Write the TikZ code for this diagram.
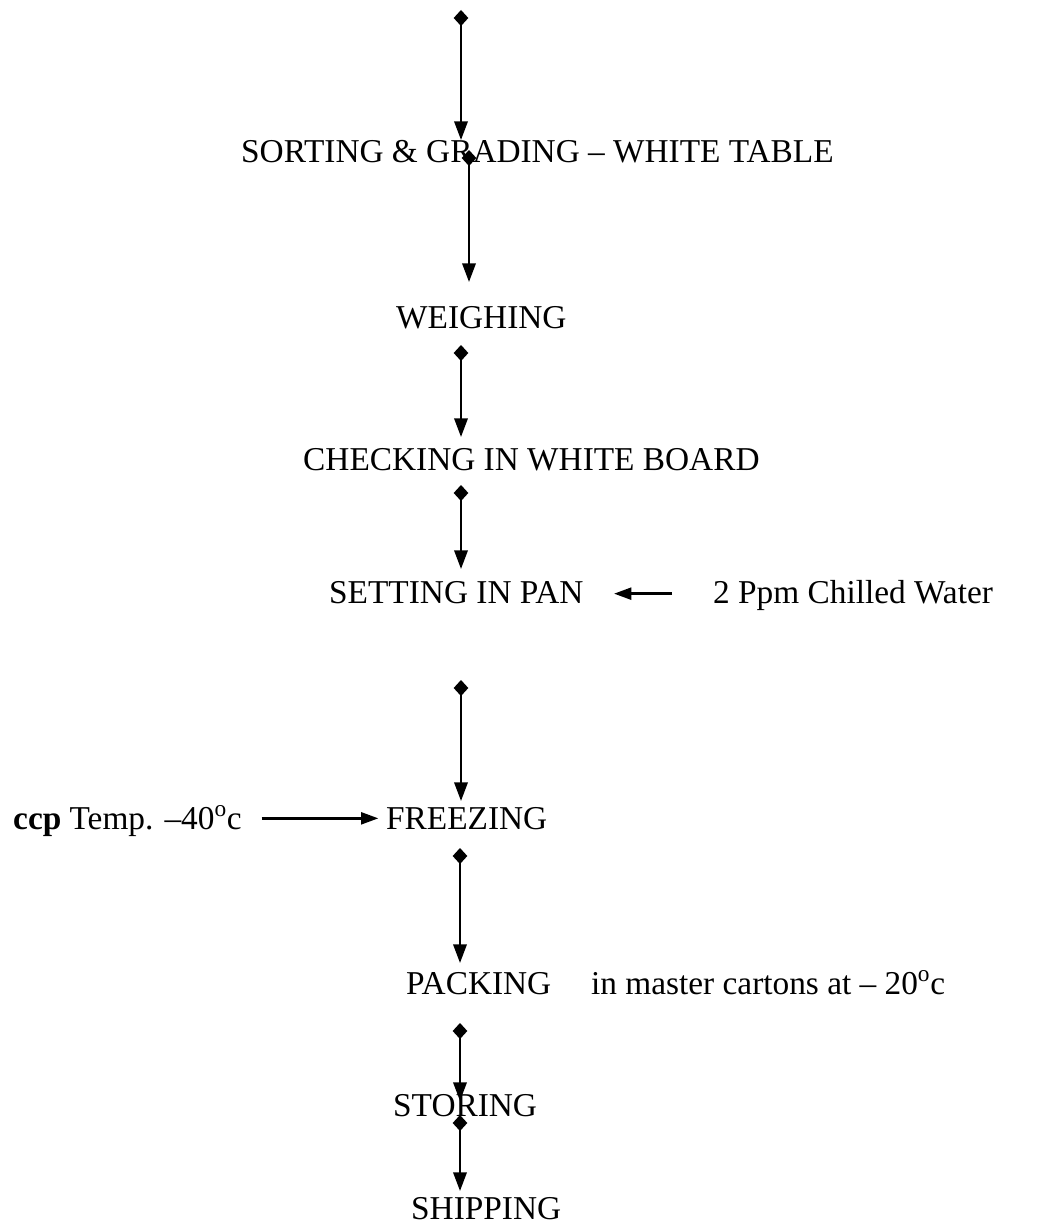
\documentclass[tikz,border=0pt]{standalone}
\usepackage{fontspec}
\setmainfont{Liberation Serif}
\usetikzlibrary{arrows.meta}
\tikzset{flowchart/.style={
  x=0.75pt,y=-0.75pt,
  line width=1.8pt,line join=round,
  every node/.style={inner sep=0pt,anchor=base west,font=\fontsize{25}{30}\selectfont}
},
flowline/.style={{Diamond[width=11pt,length=12pt]}-{Triangle[width=10pt,length=14pt]}},
feedline/.style={-{Triangle[width=9pt,length=13pt]}}}

\begin{document}
\begin{tikzpicture}[flowchart]
  \useasboundingbox (0,0) rectangle (1037,1227);
  \node (sort)   at (240,163)  {SORTING \& GRADING -- WHITE TABLE};
  \node (weigh)  at (395,328)  {WEIGHING};
  \node (check)  at (302,470)  {CHECKING IN WHITE BOARD};
  \node (set)    at (328,603)  {SETTING IN PAN};
  \node (water)  at (712,603)  {2 Ppm Chilled Water};
  \node (freeze) at (385,829)  {FREEZING};
  \node (ccp)    at (12,829)   {\textbf{ccp} Temp. --40\textsuperscript{o}c};
  \node (pack)   at (405,994)  {PACKING};
  \node (master) at (590,994)  {in master cartons at -- 20\textsuperscript{o}c};
  \node (store)  at (392,1116) {STORING};
  \node (ship)   at (410,1219) {SHIPPING};
  \coordinate (s0) at (461,10);   \coordinate (t0) at (461,140);
  \coordinate (s1) at (469,150);  \coordinate (t1) at (469,282);
  \coordinate (s2) at (461,345);  \coordinate (t2) at (461,437);
  \coordinate (s3) at (461,485);  \coordinate (t3) at (461,569);
  \coordinate (s4) at (461,680);  \coordinate (t4) at (461,801);
  \coordinate (s5) at (460,848);  \coordinate (t5) at (460,963);
  \coordinate (s6) at (460,1023); \coordinate (t6) at (460,1101);
  \coordinate (s7) at (460,1115); \coordinate (t7) at (460,1191);
  \foreach \i in {0,...,7}
    \draw[flowline] (s\i) -- (t\i);
  \draw[feedline] ([xshift=-30pt,yshift=7pt]water.base west) -- ([xshift=22pt,yshift=7pt]set.base east);
  \draw[feedline] ([xshift=14pt,yshift=8pt]ccp.base east) -- ([xshift=-5pt,yshift=8pt]freeze.base west);
\end{tikzpicture}
\end{document}
